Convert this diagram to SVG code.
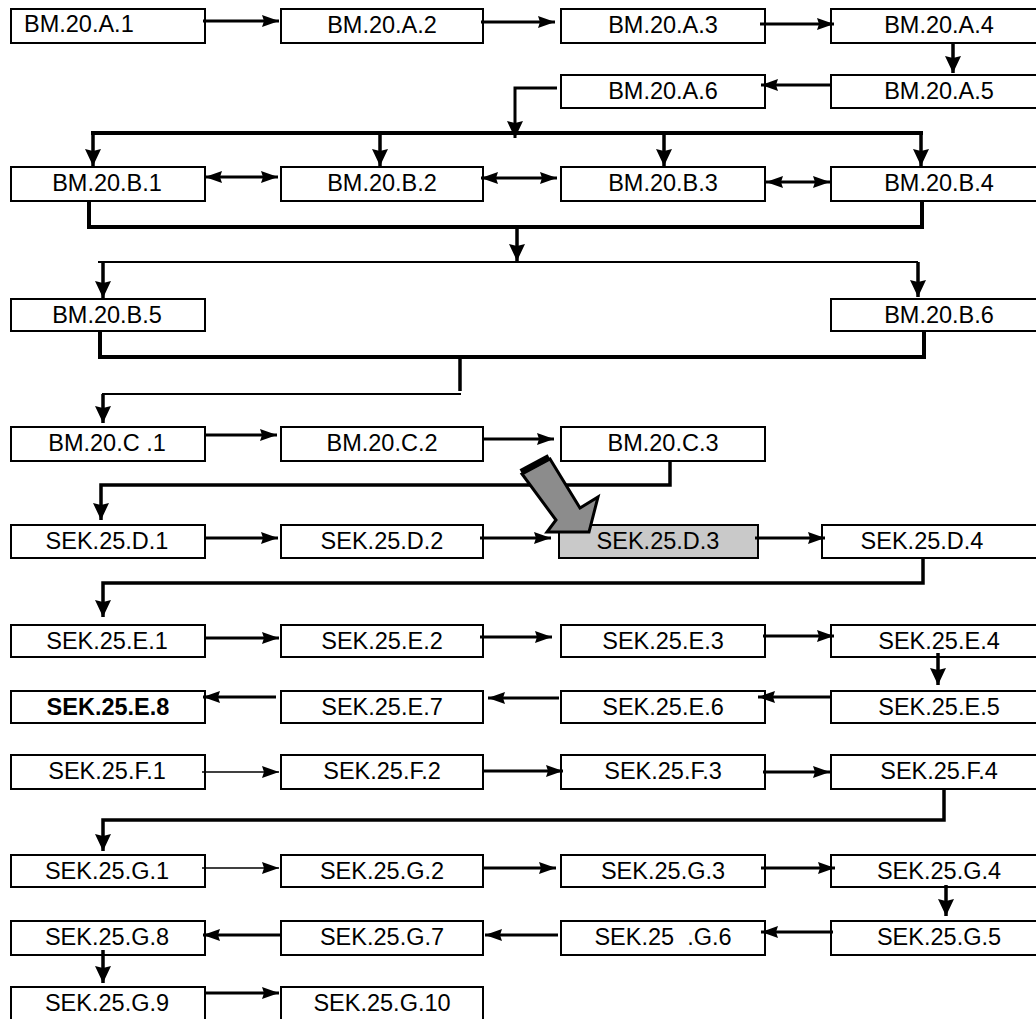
<svg xmlns="http://www.w3.org/2000/svg" width="1036" height="1019" viewBox="0 0 1036 1019">
<style>
.box{fill:#fff;stroke:#000;stroke-width:2}
.hl{fill:#c9c9c9}
.t{font-family:"Liberation Sans",Arial,sans-serif;font-size:23.5px;fill:#000;text-anchor:middle;white-space:pre}
.b{font-weight:bold}
.c{fill:none;stroke:#000;stroke-width:3}
.th{stroke-width:1.6}
.bus{stroke-width:4}
.ah{marker-end:url(#ah)}
.av{marker-end:url(#av)}
.dbl{marker-start:url(#ah);marker-end:url(#ah)}
</style>
<defs>
<marker id="ah" markerUnits="userSpaceOnUse" markerWidth="18" markerHeight="13" refX="17" refY="6.5" orient="auto-start-reverse"><path d="M0,0.5 L17,6.5 L0,12.5 L2,6.5 z" fill="#000"/></marker>
<marker id="av" markerUnits="userSpaceOnUse" markerWidth="18" markerHeight="17" refX="17" refY="8.5" orient="auto"><path d="M0,0.5 L17,8.5 L0,16.5 L2,8.5 z" fill="#000"/></marker>
</defs>
<rect width="1036" height="1019" fill="#fff"/>

<g id="n-A1"><rect class="box" x="11" y="9" width="194" height="34"/><text class="t" x="24" y="32" style="text-anchor:start">BM.20.A.1</text></g>
<g id="n-A2"><rect class="box" x="281" y="9" width="202" height="34"/><text class="t" x="382" y="33">BM.20.A.2</text></g>
<g id="n-A3"><rect class="box" x="561" y="9" width="204" height="34"/><text class="t" x="663" y="33">BM.20.A.3</text></g>
<g id="n-A4"><rect class="box" x="831" y="9" width="220" height="34"/><text class="t" x="939" y="33">BM.20.A.4</text></g>
<g id="n-A6"><rect class="box" x="561" y="75" width="204" height="33"/><text class="t" x="663" y="99">BM.20.A.6</text></g>
<g id="n-A5"><rect class="box" x="831" y="75" width="220" height="33"/><text class="t" x="939" y="99">BM.20.A.5</text></g>

<g id="n-B1"><rect class="box" x="11" y="167" width="194" height="34"/><text class="t" x="107" y="191">BM.20.B.1</text></g>
<g id="n-B2"><rect class="box" x="281" y="167" width="202" height="34"/><text class="t" x="382" y="191">BM.20.B.2</text></g>
<g id="n-B3"><rect class="box" x="561" y="167" width="204" height="34"/><text class="t" x="663" y="191">BM.20.B.3</text></g>
<g id="n-B4"><rect class="box" x="831" y="167" width="220" height="34"/><text class="t" x="939" y="191">BM.20.B.4</text></g>
<g id="n-B5"><rect class="box" x="11" y="299" width="194" height="32"/><text class="t" x="107" y="323">BM.20.B.5</text></g>
<g id="n-B6"><rect class="box" x="831" y="299" width="220" height="32"/><text class="t" x="939" y="323">BM.20.B.6</text></g>

<g id="n-C1"><rect class="box" x="11" y="427" width="194" height="34"/><text class="t" x="107" y="451">BM.20.C .1</text></g>
<g id="n-C2"><rect class="box" x="281" y="427" width="202" height="34"/><text class="t" x="382" y="451">BM.20.C.2</text></g>
<g id="n-C3"><rect class="box" x="561" y="427" width="204" height="34"/><text class="t" x="663" y="451">BM.20.C.3</text></g>

<g id="n-D1"><rect class="box" x="11" y="525" width="194" height="33"/><text class="t" x="107" y="549">SEK.25.D.1</text></g>
<g id="n-D2"><rect class="box" x="281" y="525" width="202" height="33"/><text class="t" x="382" y="549">SEK.25.D.2</text></g>
<g id="n-D3"><rect class="box hl" x="559" y="525" width="199" height="33"/><text class="t" x="658" y="549">SEK.25.D.3</text></g>
<g id="n-D4"><rect class="box" x="822" y="525" width="229" height="33"/><text class="t" x="922" y="549">SEK.25.D.4</text></g>

<g id="n-E1"><rect class="box" x="11" y="625" width="194" height="32"/><text class="t" x="107" y="649">SEK.25.E.1</text></g>
<g id="n-E2"><rect class="box" x="281" y="625" width="202" height="32"/><text class="t" x="382" y="649">SEK.25.E.2</text></g>
<g id="n-E3"><rect class="box" x="561" y="625" width="204" height="32"/><text class="t" x="663" y="649">SEK.25.E.3</text></g>
<g id="n-E4"><rect class="box" x="831" y="625" width="220" height="32"/><text class="t" x="939" y="649">SEK.25.E.4</text></g>
<g id="n-E8"><rect class="box" x="11" y="691" width="194" height="32"/><text class="t b" x="108" y="715">SEK.25.E.8</text></g>
<g id="n-E7"><rect class="box" x="281" y="691" width="202" height="32"/><text class="t" x="382" y="715">SEK.25.E.7</text></g>
<g id="n-E6"><rect class="box" x="561" y="691" width="204" height="32"/><text class="t" x="663" y="715">SEK.25.E.6</text></g>
<g id="n-E5"><rect class="box" x="831" y="691" width="220" height="32"/><text class="t" x="939" y="715">SEK.25.E.5</text></g>

<g id="n-F1"><rect class="box" x="11" y="755" width="194" height="34"/><text class="t" x="107" y="779">SEK.25.F.1</text></g>
<g id="n-F2"><rect class="box" x="281" y="755" width="202" height="34"/><text class="t" x="382" y="779">SEK.25.F.2</text></g>
<g id="n-F3"><rect class="box" x="561" y="755" width="204" height="34"/><text class="t" x="663" y="779">SEK.25.F.3</text></g>
<g id="n-F4"><rect class="box" x="831" y="755" width="220" height="34"/><text class="t" x="939" y="779">SEK.25.F.4</text></g>

<g id="n-G1"><rect class="box" x="11" y="855" width="194" height="32"/><text class="t" x="107" y="879">SEK.25.G.1</text></g>
<g id="n-G2"><rect class="box" x="281" y="855" width="202" height="32"/><text class="t" x="382" y="879">SEK.25.G.2</text></g>
<g id="n-G3"><rect class="box" x="561" y="855" width="204" height="32"/><text class="t" x="663" y="879">SEK.25.G.3</text></g>
<g id="n-G4"><rect class="box" x="831" y="855" width="220" height="32"/><text class="t" x="939" y="879">SEK.25.G.4</text></g>
<g id="n-G8"><rect class="box" x="11" y="921" width="194" height="34"/><text class="t" x="107" y="945">SEK.25.G.8</text></g>
<g id="n-G7"><rect class="box" x="281" y="921" width="202" height="34"/><text class="t" x="382" y="945">SEK.25.G.7</text></g>
<g id="n-G6"><rect class="box" x="561" y="921" width="204" height="34"/><text class="t" x="663" y="945" xml:space="preserve">SEK.25  .G.6</text></g>
<g id="n-G5"><rect class="box" x="831" y="921" width="220" height="34"/><text class="t" x="939" y="945">SEK.25.G.5</text></g>
<g id="n-G9"><rect class="box" x="11" y="987" width="194" height="40"/><text class="t" x="107" y="1011">SEK.25.G.9</text></g>
<g id="n-G10"><rect class="box" x="281" y="987" width="202" height="40"/><text class="t" x="382" y="1011">SEK.25.G.10</text></g>

<g id="connectors">
<path class="c ah" d="M203,21 H279"/>
<path class="c ah" d="M481,22 H555"/>
<path class="c ah" d="M760,24 H834"/>
<path class="c av" style="stroke-width:3.5" d="M953,43 V73"/>
<path class="c ah" d="M831,85 H761"/>
<path class="c av" d="M557,88 H515 V138"/>
<path class="c bus" d="M91,133 H923"/>
<path class="c av" style="stroke-width:3.5" d="M93,133 V166"/>
<path class="c av" style="stroke-width:3.5" d="M380,133 V166"/>
<path class="c av" style="stroke-width:3.5" d="M664,133 V166"/>
<path class="c av" style="stroke-width:3.5" d="M921,133 V166"/>
<path class="c dbl" d="M205,177 H278"/>
<path class="c dbl" d="M481,178 H557"/>
<path class="c dbl" d="M766,182 H830"/>
<path class="c bus" d="M89,201 V227 H922 V201"/>
<path class="c av" style="stroke-width:3.5" d="M517,227 V261"/>
<path class="c" style="stroke-width:2" d="M98,262 H918"/>
<path class="c av" style="stroke-width:3.5" d="M103,262 V298"/>
<path class="c av" style="stroke-width:3.5" d="M918,262 V297"/>
<path class="c bus" d="M100,331 V357 H924 V331"/>
<path class="c" style="stroke-width:3.5" d="M460,357 V391"/>
<path class="c" style="stroke-width:2" d="M461,394 H102"/>
<path class="c av" style="stroke-width:3.5" d="M103,394 V423"/>
<path class="c ah" d="M204,435 H277"/>
<path class="c ah" d="M483,439 H554"/>
<path class="c av" style="stroke-width:3.5" d="M670,461 V485 H101 V520"/>
<path class="c ah" d="M204,538 H278"/>
<path class="c ah" d="M480,538 H551"/>
<path class="c ah" d="M755,538 H825"/>
<path class="c av" style="stroke-width:3.5" d="M923,558 V583 H103 V617"/>
<path class="c ah" d="M204,638 H279"/>
<path class="c ah" d="M480,637 H552"/>
<path class="c ah" d="M763,636 H834"/>
<path class="c av" style="stroke-width:3.5" d="M938,653 V685"/>
<path class="c ah" d="M831,697 H758"/>
<path class="c ah" d="M559,698 H488"/>
<path class="c ah" d="M276,697 H203"/>
<path class="c th ah" d="M202,772 H279"/>
<path class="c ah" d="M482,771 H563"/>
<path class="c ah" d="M763,772 H830"/>
<path class="c av" style="stroke-width:3.5" d="M944,789 V820 H103 V851"/>
<path class="c th ah" d="M202,868 H279"/>
<path class="c ah" d="M483,868 H556"/>
<path class="c ah" d="M761,868 H835"/>
<path class="c av" style="stroke-width:3.5" d="M946,885 V916"/>
<path class="c ah" d="M833,932 H761"/>
<path class="c ah" d="M558,935 H485"/>
<path class="c ah" d="M280,935 H203"/>
<path class="c av" style="stroke-width:3.5" d="M103,950 V983"/>
<path class="c ah" d="M204,993 H279"/>
<g id="block-arrow">
<polygon points="522,474 550,459 580,508 598,497 589,532 547,532 556,520" fill="#8c8c8c" stroke="#000" stroke-width="3" stroke-linejoin="miter"/>
<line x1="521" y1="472" x2="549" y2="457" stroke="#000" stroke-width="6"/>
</g>
</g>
</svg>
